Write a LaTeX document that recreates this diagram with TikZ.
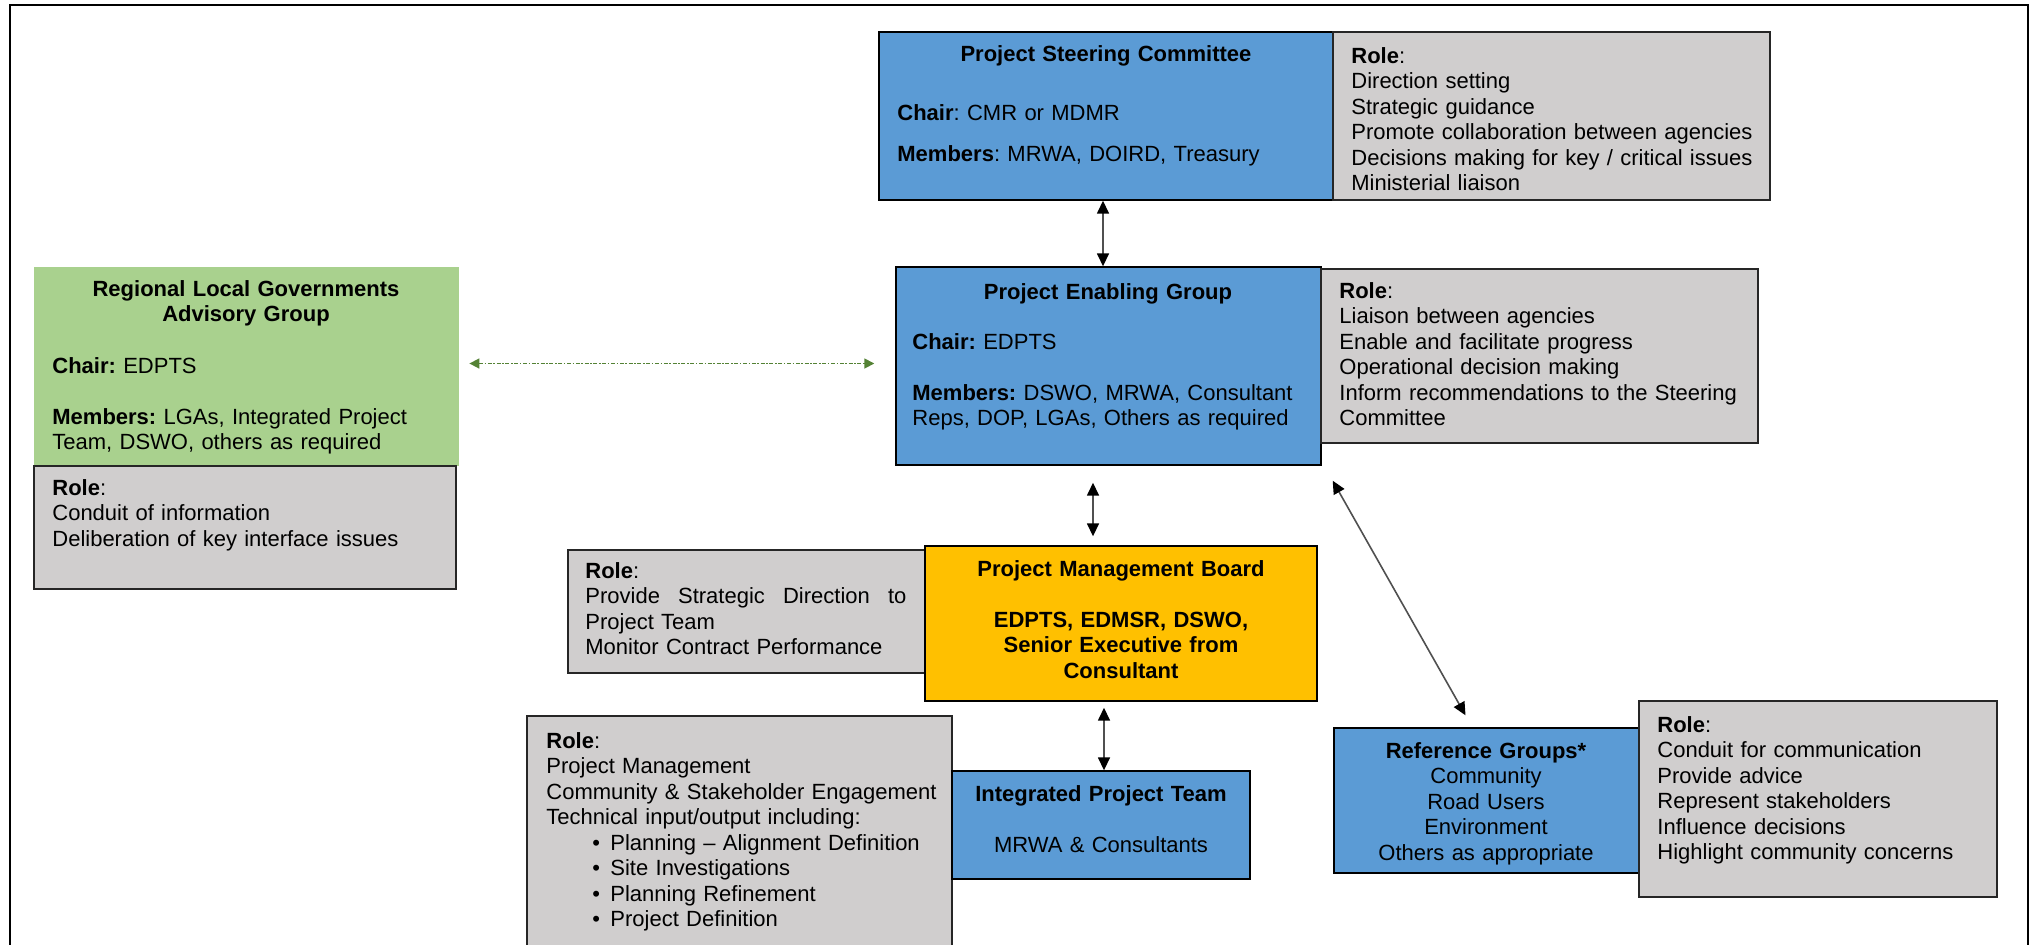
\documentclass[tikz,border=0pt]{standalone}
\usepackage{fontspec}
\setmainfont{Liberation Sans}
\usetikzlibrary{arrows.meta,fit}
\definecolor{orgblue}{HTML}{5B9BD5}
\definecolor{rolegrey}{HTML}{D0CECE}
\definecolor{advgreen}{HTML}{A9D18E}
\definecolor{boardgold}{HTML}{FFC000}
\definecolor{linkgreen}{HTML}{548235}
\definecolor{linkgrey}{HTML}{505050}

\begin{document}
\begin{tikzpicture}[x=0.5pt, y=-0.5pt,
  font=\fontsize{11}{12.75}\selectfont\frenchspacing,
  box/.style={draw=black, line width=0.7pt, inner sep=0pt},
  blue box/.style={box, fill=orgblue},
  role box/.style={box, draw=black!85, fill=rolegrey},
  green box/.style={inner sep=0pt, fill=advgreen},
  gold box/.style={box, fill=boardgold},
  box text/.style={inner sep=0pt, anchor=base west, align=left, text width=#1},
  box title/.style={inner sep=0pt, anchor=base, align=center, text width=#1},
  link/.style={linkgrey, line width=0.8pt,
    {Triangle[length=6.5pt,width=6pt,color=black]}-{Triangle[length=6.5pt,width=6pt,color=black]}},
  dash link/.style={linkgreen, line width=0.8pt, dash pattern=on 2pt off 0.8pt on 0.8pt off 0.8pt,
    {Triangle[length=5pt,width=5pt]}-{Triangle[length=5pt,width=5pt]}}]

\useasboundingbox (0,0) rectangle (2035,944);
\clip (0,0) rectangle (2035,944);

% outer frame
\draw[line width=1.2pt] (10,960) -- (10,5) -- (2028,5) -- (2028,960);

% steering committee
\node[blue box, fit={(879,32) (1333,200)}] (psc) {};
\node[role box, fit={(1333,32) (1770,200)}] (psc-role) {};
\node[box title=227pt] (psc-title) at (1106,61) {\textbf{Project Steering Committee}};
\node[box text=210pt] (psc-body) at (897,120)
  {\textbf{Chair}: CMR or MDMR\\[7.75pt]\textbf{Members}: MRWA, DOIRD, Treasury};
\node[box text=205pt] (psc-role-text) at (1351,63)
  {\textbf{Role}:\\Direction setting\\Strategic guidance\\Promote collaboration between agencies\\
   Decisions making for key / critical issues\\Ministerial liaison};

% enabling group
\node[blue box, fit={(896,267) (1321,465)}] (peg) {};
\node[role box, fit={(1321,269) (1758,443)}] (peg-role) {};
\node[box title=212pt] (peg-title) at (1108,299) {\textbf{Project Enabling Group}};
\node[box text=205pt] (peg-body) at (912,349)
  {\textbf{Chair:} EDPTS\\[12.75pt]\textbf{Members:} DSWO, MRWA, Consultant\\Reps, DOP, LGAs, Others as required};
\node[box text=205pt] (peg-role-text) at (1339,298)
  {\textbf{Role}:\\Liaison between agencies\\Enable and facilitate progress\\Operational decision making\\
   Inform recommendations to the Steering\\Committee};

% regional advisory group
\node[green box, fit={(34,267) (459,466)}] (rlg) {};
\node[role box, fit={(34,466) (456,589)}] (rlg-role) {};
\node[box title=212pt] (rlg-title) at (246,296) {\textbf{Regional Local Governments}\\\textbf{Advisory Group}};
\node[box text=200pt] (rlg-body) at (52,373)
  {\textbf{Chair:} EDPTS\\[12.75pt]\textbf{Members:} LGAs, Integrated Project\\Team, DSWO, others as required};
\node[box text=195pt] (rlg-role-text) at (52,495)
  {\textbf{Role}:\\Conduit of information\\Deliberation of key interface issues};

% management board
\node[role box, fit={(568,550) (925,673)}] (pmb-role) {};
\node[gold box, fit={(925,546) (1317,701)}] (pmb) {};
\node[box text=170pt] (pmb-role-text) at (585,578)
  {\textbf{Role}:\\\leavevmode\hbox to 160.5pt{Provide\hfill Strategic\hfill Direction\hfill to}\\Project Team\\Monitor Contract Performance};
\node[box title=196pt] (pmb-title) at (1121,576)
  {\textbf{Project Management Board}\\[12.75pt]\textbf{EDPTS, EDMSR, DSWO,}\\\textbf{Senior Executive from}\\\textbf{Consultant}};

% integrated project team
\node[role box, fit={(527,716) (952,960)}] (ipt-role) {};
\node[blue box, fit={(952,771) (1250,879)}] (ipt) {};
\node[box text=205pt] (ipt-role-text) at (546,748)
  {\textbf{Role}:\\Project Management\\Community \& Stakeholder Engagement\\Technical input/output including:\\
   \hspace*{23pt}\makebox[9pt][l]{\textbullet}Planning – Alignment Definition\\
   \hspace*{23pt}\makebox[9pt][l]{\textbullet}Site Investigations\\
   \hspace*{23pt}\makebox[9pt][l]{\textbullet}Planning Refinement\\
   \hspace*{23pt}\makebox[9pt][l]{\textbullet}Project Definition};
\node[box title=149pt] (ipt-title) at (1101,801)
  {\textbf{Integrated Project Team}\\[12.75pt]MRWA \& Consultants};

% reference groups
\node[blue box, fit={(1334,728) (1639,873)}] (ref) {};
\node[role box, fit={(1639,701) (1997,897)}] (ref-role) {};
\node[box title=152pt] (ref-title) at (1486,758)
  {\textbf{Reference Groups*}\\Community\\Road Users\\Environment\\Others as appropriate};
\node[box text=165pt] (ref-role-text) at (1657,732)
  {\textbf{Role}:\\Conduit for communication\\Provide advice\\Represent stakeholders\\Influence decisions\\
   Highlight community concerns};

% links
\draw[link] ([xshift=-1.5pt]psc.south) -- ([xshift=-1.5pt]psc.south |- peg.north);
\draw[link, shorten <=8.5pt, shorten >=4.5pt] ([xshift=-7.75pt]peg.south) -- ([xshift=-7.75pt]peg.south |- pmb.north);
\draw[link, shorten <=3pt] ([xshift=1.5pt]ipt.north |- pmb.south) -- ([xshift=1.5pt]ipt.north);
\draw[link] ([xshift=5.5pt,yshift=-7.5pt]peg.south east) -- ([xshift=-10.5pt,yshift=6pt]ref.north);
\draw[dash link] ([xshift=5pt,yshift=1.5pt]rlg.east) -- ([xshift=-10.5pt,yshift=1.5pt]rlg.east -| peg.west);
\end{tikzpicture}
\end{document}
